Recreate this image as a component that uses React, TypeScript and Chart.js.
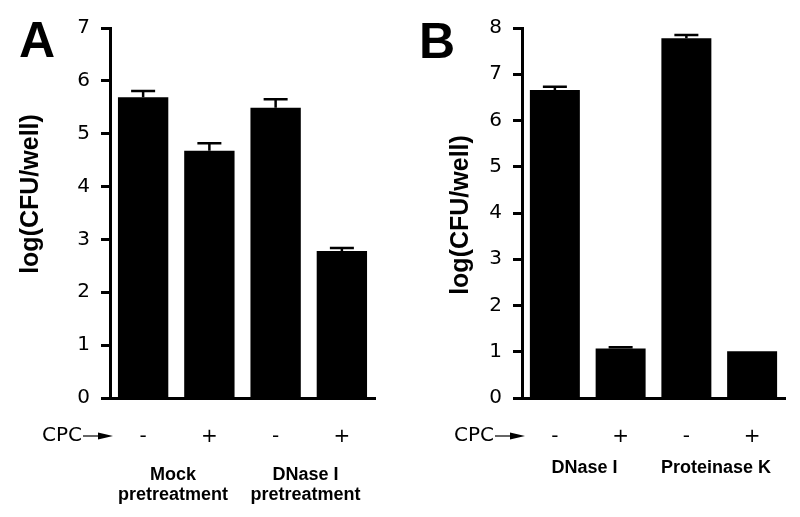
import React, { useEffect, useRef } from "react";
import { Chart, registerables } from "chart.js";

Chart.register(...registerables);

// ---- data ----
const cpcLabels = ["-", "+", "-", "+"];
const valuesA = [5.69, 4.68, 5.49, 2.78];
const errorsA = [0.12, 0.14, 0.16, 0.06];
const valuesB = [6.66, 1.07, 7.78, 1.01];
const errorsB = [0.07, 0.03, 0.07, 0];
const groupsA = [["Mock", "pretreatment"], ["DNase I", "pretreatment"]];
const groupsB = [["DNase I"], ["Proteinase K"]];
const yMaxA = 7;
const yMaxB = 8;
const yTitle = "log(CFU/well)";

type PanelCfg = {
  letter: string;
  values: number[];
  errors: number[];
  groups: string[][];
  yMax: number;
  axisWidth: number;
  padRight: number;
  titleX: number;
  titleY: number;
  groupY: number;
  letterY: number;
};

function makePlugin(cfg: PanelCfg) {
  return {
    id: "panelDecor" + cfg.letter,
    afterDatasetsDraw(chart: any) {
      const ctx = chart.ctx;
      const meta = chart.getDatasetMeta(0);
      const y = chart.scales.y;
      ctx.save();
      ctx.strokeStyle = "#000";
      ctx.lineWidth = 2.5;
      meta.data.forEach((bar: any, i: number) => {
        const err = cfg.errors[i];
        if (!err) return;
        const v = cfg.values[i];
        const top = y.getPixelForValue(v + err);
        const base = y.getPixelForValue(v);
        ctx.beginPath();
        ctx.moveTo(bar.x, base);
        ctx.lineTo(bar.x, top);
        ctx.moveTo(bar.x - 12, top);
        ctx.lineTo(bar.x + 12, top);
        ctx.stroke();
      });
      ctx.restore();
    },
    afterDraw(chart: any) {
      const ctx = chart.ctx;
      const area = chart.chartArea;
      const x = chart.scales.x;
      ctx.save();
      ctx.fillStyle = "#000";
      // panel letter
      ctx.font = "bold 50px 'Liberation Sans', Arial, sans-serif";
      ctx.textAlign = "left";
      ctx.textBaseline = "alphabetic";
      ctx.fillText(cfg.letter, 19, cfg.letterY);
      // y title
      ctx.save();
      ctx.translate(cfg.titleX, cfg.titleY);
      ctx.rotate(-Math.PI / 2);
      ctx.font = "bold 25px 'Liberation Sans', Arial, sans-serif";
      ctx.textAlign = "center";
      ctx.textBaseline = "middle";
      ctx.fillText(yTitle, 0, 0);
      ctx.restore();
      // CPC arrow
      const rowY = 436;
      ctx.font = "20px 'DejaVu Sans', sans-serif";
      ctx.textAlign = "right";
      ctx.textBaseline = "middle";
      ctx.fillText("CPC", area.left - 28, rowY);
      const tip = area.left + 3;
      ctx.strokeStyle = "#000";
      ctx.lineWidth = 1.2;
      ctx.beginPath();
      ctx.moveTo(tip - 30, rowY);
      ctx.lineTo(tip - 14, rowY);
      ctx.stroke();
      ctx.beginPath();
      ctx.moveTo(tip, rowY);
      ctx.lineTo(tip - 15, rowY - 3.5);
      ctx.lineTo(tip - 15, rowY + 3.5);
      ctx.closePath();
      ctx.fill();
      // group labels
      ctx.font = "bold 18px 'Liberation Sans', Arial, sans-serif";
      ctx.textAlign = "center";
      cfg.groups.forEach((lines, g) => {
        const cx = x.getPixelForValue(g * 2 + 0.45);
        lines.forEach((ln, k) => {
          ctx.fillText(ln, cx, cfg.groupY + k * 20);
        });
      });
      ctx.restore();
    },
  };
}

function Panel({ cfg }: { cfg: PanelCfg }) {
  const ref = useRef<HTMLCanvasElement | null>(null);
  useEffect(() => {
    if (!ref.current) return;
    const chart = new Chart(ref.current, {
      type: "bar",
      data: {
        labels: cpcLabels,
        datasets: [
          {
            data: cfg.values,
            backgroundColor: "#000",
            borderWidth: 0,
            barPercentage: 0.76,
            categoryPercentage: 1,
          },
        ],
      },
      options: {
        animation: false,
        responsive: false,
        devicePixelRatio: 1,
        layout: { padding: { left: 0, top: 28, right: cfg.padRight, bottom: 0 } },
        plugins: { legend: { display: false }, tooltip: { enabled: false } },
        scales: {
          x: {
            grid: { display: false, drawTicks: false },
            border: { display: true, color: "#000", width: 3 },
            ticks: {
              color: "#000",
              padding: 27,
              font: { family: "'DejaVu Sans', sans-serif", size: 20 },
            },
            afterFit: (s: any) => {
              s.height = 119;
            },
          },
          y: {
            min: 0,
            max: cfg.yMax,
            grid: {
              drawOnChartArea: false,
              drawTicks: true,
              tickLength: 9,
              tickWidth: 3,
              tickColor: "#000",
            },
            border: { display: true, color: "#000", width: 3 },
            ticks: {
              stepSize: 1,
              color: "#000",
              padding: 11,
              font: { family: "'DejaVu Sans', sans-serif", size: 20 },
            },
            afterFit: (s: any) => {
              s.width = cfg.axisWidth;
            },
          },
        },
      },
      plugins: [makePlugin(cfg)],
    } as any);
    return () => chart.destroy();
  }, [cfg]);
  return <canvas ref={ref} width={400} height={517} style={{ display: "block", width: 400, height: 517 }} />;
}

const cfgA: PanelCfg = {
  letter: "A",
  values: valuesA,
  errors: errorsA,
  groups: groupsA,
  yMax: yMaxA,
  axisWidth: 110,
  padRight: 25,
  titleX: 31.5,
  titleY: 194,
  groupY: 475,
  letterY: 57,
};

const cfgB: PanelCfg = {
  letter: "B",
  values: valuesB,
  errors: errorsB,
  groups: groupsB,
  yMax: yMaxB,
  axisWidth: 122,
  padRight: 15,
  titleX: 61,
  titleY: 215,
  groupY: 468,
  letterY: 58,
};

export default function App() {
  return (
    <div
      style={{
        position: "absolute",
        left: 0,
        top: 0,
        width: 800,
        height: 517,
        background: "#fff",
        display: "flex",
      }}
    >
      <Panel cfg={cfgA} />
      <Panel cfg={cfgB} />
    </div>
  );
}
